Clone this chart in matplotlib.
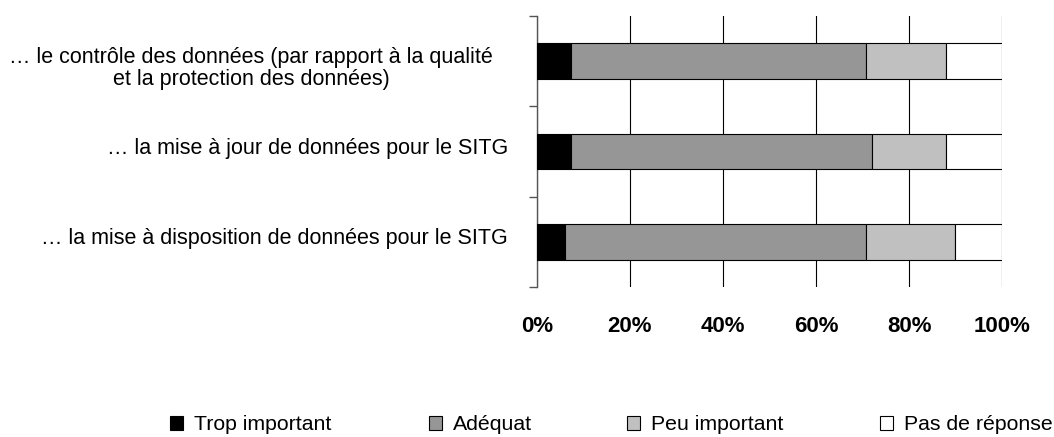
import numpy as np
import matplotlib
matplotlib.use("Agg")
from matplotlib import pyplot as plt
from matplotlib.patches import Patch
from matplotlib.transforms import ScaledTranslation

plt.rcParams['font.family'] = ['Liberation Sans', 'DejaVu Sans']

# donnees (en %)
categories = ["… le contrôle des données (par rapport à la qualité\net la protection des données)",
              "… la mise à jour de données pour le SITG",
              "… la mise à disposition de données pour le SITG"]
trop = [7.4, 7.4, 6.1]
adequat = [63.4, 64.6, 64.7]
peu = [17.2, 16.0, 19.0]
pas_rep = [12.0, 12.0, 10.2]
series_names = ["Trop important", "Adéquat", "Peu important", "Pas de réponse"]
couleurs = ["#000000", "#969696", "#C0C0C0", "#FFFFFF"]
xticks = [0, 20, 40, 60, 80, 100]
xtick_labels = ["0%", "20%", "40%", "60%", "80%", "100%"]

fig = plt.figure(figsize=(10.54, 4.37), dpi=100)
ax = fig.add_axes([537/1054, 1-287/437, 465/1054, 271/437])

y = np.arange(len(categories))
gauche = np.zeros(len(categories))
for vals, nom, c in zip([trop, adequat, peu, pas_rep], series_names, couleurs):
    ax.barh(y, vals, left=gauche, height=0.395, color=c, edgecolor='black',
            linewidth=0.8, label=nom, zorder=3)
    gauche = gauche + np.array(vals)

ax.set_xlim(0, 100)
ax.set_ylim(2.5, -0.5)

# graduations
ax.set_xticks(xticks, xtick_labels, fontsize=16, fontweight='bold')
ax.tick_params(axis='x', length=0, pad=21)
ax.set_yticks([-0.5, 0.5, 1.5, 2.5], ['', '', '', ''])
ax.tick_params(axis='y', which='major', length=6, width=1, color='#555555', direction='out')
ax.set_yticks(y, categories, minor=True)
ax.tick_params(axis='y', which='minor', length=0, pad=21, labelsize=15.5)
for i, t in enumerate(ax.get_yticklabels(minor=True)):
    t.set_multialignment('center')
    t.set_linespacing(1.1)
    if '\n' in categories[i]:
        dx, dy = -0.15, -0.04
    else:
        dx, dy = 0.0, 0.055
    t.set_transform(t.get_transform() + ScaledTranslation(dx, dy, fig.dpi_scale_trans))

ax.grid(axis='x', color='black', linewidth=0.8, zorder=0)
for s in ['top', 'right', 'bottom']:
    ax.spines[s].set_visible(False)
ax.spines['left'].set_color('#555555')
ax.spines['left'].set_linewidth(1)

# legende
pos_leg = [170, 429, 627, 880]
for nom, c, px in zip(series_names, couleurs, pos_leg):
    h = Patch(facecolor=c, edgecolor='black', linewidth=0.8)
    fig.legend([h], [nom], loc='center left', bbox_to_anchor=(px/1054, 1-425/437),
               frameon=False, fontsize=15.3, handlelength=0.62, handleheight=0.62,
               handletextpad=0.5, borderpad=0, borderaxespad=0)

plt.savefig('out.png', dpi=100)
